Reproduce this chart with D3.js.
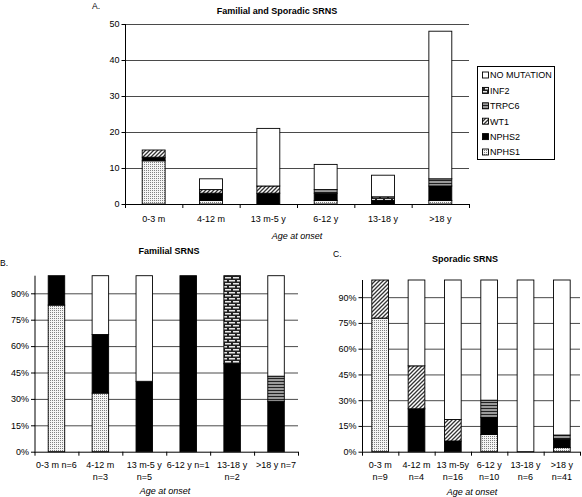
<!DOCTYPE html>
<html><head><meta charset="utf-8">
<script src="https://cdn.jsdelivr.net/npm/d3@7"></script>
<style>
body{margin:0;background:#fff;}
svg{display:block;font-family:"Liberation Sans",Arial,sans-serif;}
</style></head>
<body><svg id="c" width="582" height="497"></svg>
<script>
// ---- data ----
const seriesKeys = ["NPHS1","NPHS2","WT1","TRPC6","INF2","NO MUTATION"];
const legendOrder = ["NO MUTATION","INF2","TRPC6","WT1","NPHS2","NPHS1"];

const categoriesA = ["0-3 m","4-12 m","13 m-5 y","6-12 y","13-18 y",">18 y"];
const a_NPHS1 = [12,1,0,1,0,1];
const a_NPHS2 = [1,2,3,2,1,4];
const a_WT1   = [2,1,2,0,0,0];
const a_TRPC6 = [0,0,0,1,0,2];
const a_INF2  = [0,0,0,0,1,0];
const a_NONE  = [0,3,16,7,6,41];
const ticksA = [0,10,20,30,40,50];

const categoriesB = [["0-3 m n=6"],["4-12 m","n=3"],["13 m-5 y","n=5"],["6-12 y n=1"],["13-18 y","n=2"],[">18 y n=7"]];
const b_NPHS1 = [83.3,33.3,0,0,0,0];
const b_NPHS2 = [16.7,33.3,40,100,50,28.6];
const b_WT1   = [0,0,0,0,0,0];
const b_TRPC6 = [0,0,0,0,0,14.3];
const b_INF2  = [0,0,0,0,50,0];
const b_NONE  = [0,33.4,60,0,0,57.1];

const categoriesC = [["0-3 m","n=9"],["4-12 m","n=4"],["13 m-5y","n=16"],["6-12 y","n=10"],["13-18 y","n=6"],[">18 y","n=41"]];
const c_NPHS1 = [77.8,0,0,10,0,2.4];
const c_NPHS2 = [0,25,6.25,10,0,4.9];
const c_WT1   = [22.2,25,12.5,0,0,0];
const c_TRPC6 = [0,0,0,10,0,2.4];
const c_INF2  = [0,0,0,0,0,0];
const c_NONE  = [0,50,81.25,70,100,90.3];
const ticksPct = [0,15,30,45,60,75,90];

function rows(cats, arrs){
  return cats.map((c,i)=>{
    const o={cat:i};
    seriesKeys.forEach((k,j)=>o[k]=arrs[j][i]);
    return o;
  });
}

const FS = 9;
const svg = d3.select("#c");
const defs = svg.append("defs");
// patterns
(function(){
  let p = defs.append("pattern").attr("id","p-NPHS1").attr("patternUnits","userSpaceOnUse").attr("width",2).attr("height",2);
  p.append("rect").attr("width",2).attr("height",2).attr("fill","#f4f4f4");
  p.append("rect").attr("width",1).attr("height",1).attr("fill","#808080");
  p = defs.append("pattern").attr("id","p-WT1").attr("patternUnits","userSpaceOnUse").attr("width",4).attr("height",4);
  p.append("rect").attr("width",4).attr("height",4).attr("fill","#fff");
  p.append("path").attr("d","M-1,1 L1,-1 M0,4 L4,0 M3,5 L5,3").attr("stroke","#333").attr("stroke-width",1.3);
  p = defs.append("pattern").attr("id","p-TRPC6").attr("patternUnits","userSpaceOnUse").attr("width",4).attr("height",3);
  p.append("rect").attr("width",4).attr("height",3).attr("fill","#9a9a9a");
  p.append("rect").attr("width",4).attr("height",1).attr("fill","#222");
  p = defs.append("pattern").attr("id","p-INF2").attr("patternUnits","userSpaceOnUse").attr("width",8).attr("height",6);
  p.append("rect").attr("width",8).attr("height",6).attr("fill","#222");
  p.append("rect").attr("x",1).attr("y",1).attr("width",6).attr("height",1.5).attr("fill","#e8e8e8");
  p.append("rect").attr("x",-3).attr("y",4).attr("width",6).attr("height",1.5).attr("fill","#e8e8e8");
  p.append("rect").attr("x",5).attr("y",4).attr("width",6).attr("height",1.5).attr("fill","#e8e8e8");
})();
const fills = {"NPHS1":"url(#p-NPHS1)","NPHS2":"#000","WT1":"url(#p-WT1)","TRPC6":"url(#p-TRPC6)","INF2":"url(#p-INF2)","NO MUTATION":"#fff"};

function panel(o){
  const g = svg.append("g");
  const x = d3.scaleBand().domain(d3.range(o.cats.length)).range([o.x0,o.x1]).paddingInner(o.pi).paddingOuter(o.pi/2);
  const y = d3.scaleLinear().domain(o.domain).range([o.yb,o.yt]);
  // gridlines
  g.selectAll(".grid").data(o.ticks.filter(t=>t>0)).join("line")
    .attr("x1",o.x0).attr("x2",o.x1).attr("y1",d=>y(d)+0.5).attr("y2",d=>y(d)+0.5)
    .attr("stroke","#4a4a4a").attr("stroke-width",1);
  // bars
  const stacked = d3.stack().keys(seriesKeys)(o.data);
  stacked.forEach(s=>{
    g.selectAll(null).data(s.filter(d=>d[1]-d[0]>0)).join("rect")
      .attr("x",d=>x(d.data.cat)).attr("width",x.bandwidth())
      .attr("y",d=>y(d[1])).attr("height",d=>y(d[0])-y(d[1]))
      .attr("fill",fills[s.key]).attr("stroke","#000").attr("stroke-width",0.9);
  });
  // y axis
  const ya = d3.axisLeft(y).tickValues(o.ticks).tickSize(4).tickFormat(o.fmt);
  const yg = g.append("g").attr("transform",`translate(${o.x0+0.5},0)`).call(ya);
  yg.select(".domain").attr("d",`M0,${o.yt}V${o.yb}`);
  yg.selectAll("text").attr("font-size",FS).attr("font-family","Liberation Sans, Arial, sans-serif").attr("fill","#000").attr("x",-6);
  // x axis
  g.append("line").attr("x1",o.x0).attr("x2",o.x1).attr("y1",o.yb+0.5).attr("y2",o.yb+0.5).attr("stroke","#000");
  const step = x.step();
  g.selectAll(".xt").data(d3.range(o.cats.length+1)).join("line")
    .attr("x1",i=>o.x0+i*step+0.5).attr("x2",i=>o.x0+i*step+0.5)
    .attr("y1",o.yb).attr("y2",o.yb+4).attr("stroke","#000");
  // category labels
  o.cats.forEach((c,i)=>{
    const lines = Array.isArray(c)?c:[c];
    lines.forEach((t,j)=>{
      g.append("text").attr("x",x(i)+x.bandwidth()/2).attr("y",o.labY+j*12)
        .attr("text-anchor","middle").attr("font-size",FS).text(t);
    });
  });
  g.append("text").attr("x",o.xlabX).attr("y",o.xlabY).attr("text-anchor","middle")
    .attr("font-size",FS).attr("font-style","italic").text("Age at onset");
  g.append("text").attr("x",o.titleX).attr("y",o.titleY).attr("text-anchor","middle")
    .attr("font-size",FS).attr("font-weight","bold").text(o.title);
  g.append("text").attr("x",o.letX).attr("y",o.letY).attr("font-size",8.5).text(o.letter);
}

panel({cats:categoriesA, data:rows(categoriesA,[a_NPHS1,a_NPHS2,a_WT1,a_TRPC6,a_INF2,a_NONE]),
  x0:125,x1:469,yt:24,yb:204,domain:[0,50],ticks:ticksA,fmt:d3.format("d"),pi:0.6,
  labY:221.5,xlabX:297,xlabY:238.5,title:"Familial and Sporadic SRNS",titleX:277,titleY:13.5,letter:"A.",letX:92,letY:8.5});
panel({cats:categoriesB, data:rows(categoriesB,[b_NPHS1,b_NPHS2,b_WT1,b_TRPC6,b_INF2,b_NONE]),
  x0:34.5,x1:298,yt:275.7,yb:451.7,domain:[0,100],ticks:ticksPct,fmt:d=>d+"%",pi:0.624,
  labY:468,xlabX:165,xlabY:493.5,title:"Familial SRNS",titleX:169,titleY:253.5,letter:"B.",letX:0,letY:265.5});
panel({cats:categoriesC, data:rows(categoriesC,[c_NPHS1,c_NPHS2,c_WT1,c_TRPC6,c_INF2,c_NONE]),
  x0:362,x1:580,yt:280,yb:451.7,domain:[0,100],ticks:ticksPct,fmt:d=>d+"%",pi:0.54,
  labY:468,xlabX:472,xlabY:494.5,title:"Sporadic SRNS",titleX:465,titleY:261.5,letter:"C.",letX:333,letY:256.5});

// legend
const lg = svg.append("g");
lg.append("rect").attr("x",477.5).attr("y",66.5).attr("width",77).attr("height",93).attr("fill","#fff").attr("stroke","#000");
legendOrder.forEach((k,i)=>{
  const yy = 75 + i*15.4;
  lg.append("rect").attr("x",482.5).attr("y",yy-3).attr("width",6).attr("height",6).attr("fill",fills[k]).attr("stroke","#000").attr("stroke-width",0.9);
  lg.append("text").attr("x",490).attr("y",yy+3.3).attr("font-size",FS).text(k);
});
</script></body></html>
